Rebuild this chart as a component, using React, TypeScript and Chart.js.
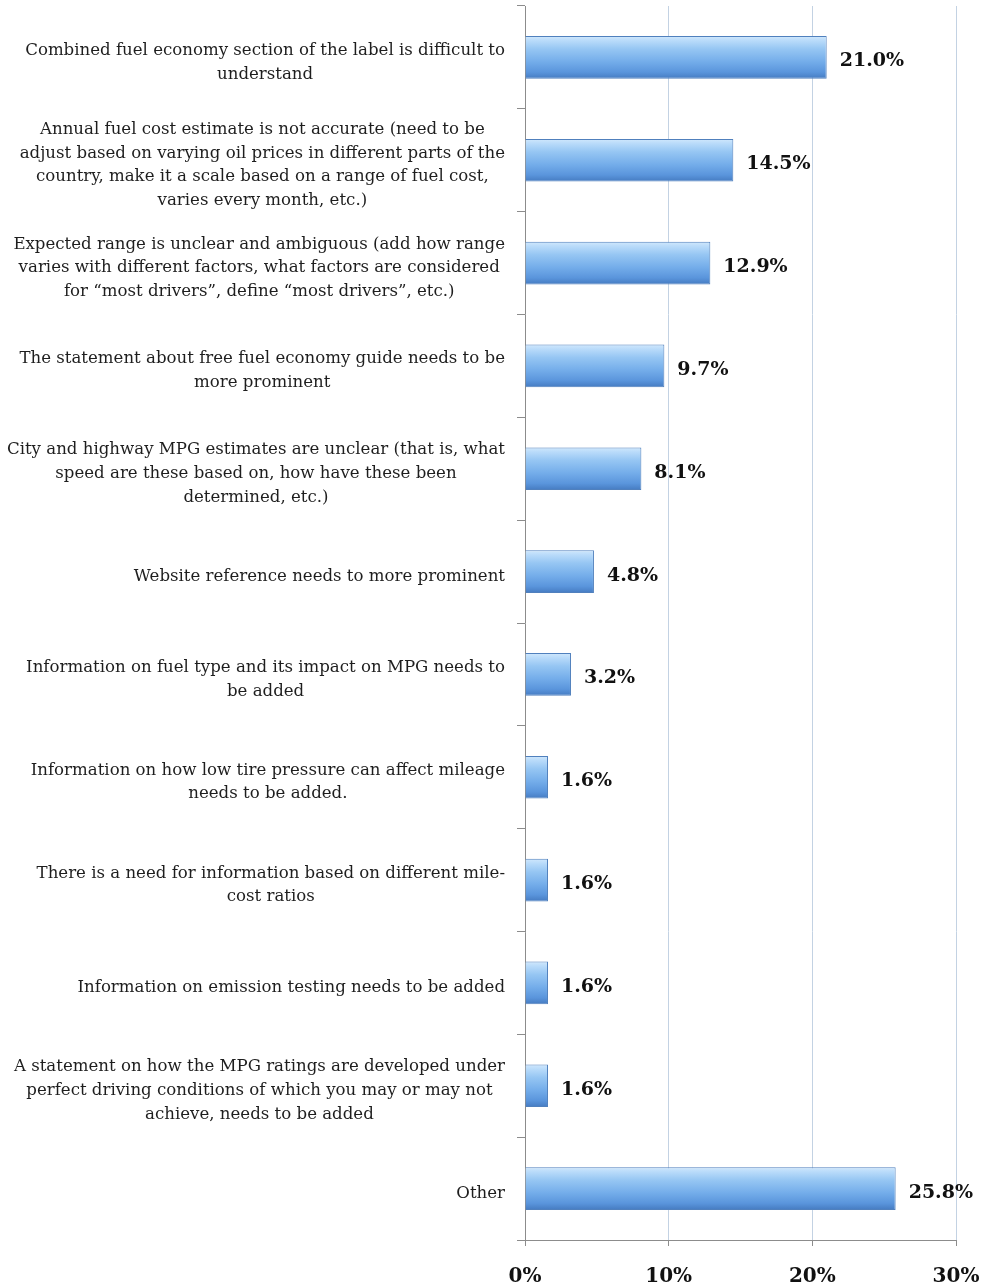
import React, { useEffect, useRef } from "react";
import { Chart, registerables } from "chart.js";

Chart.register(...registerables);

const categories: string[][] = [
  ["Combined fuel economy section of the label is difficult to", "understand"],
  [
    "Annual fuel cost estimate is not accurate (need to be",
    "adjust based on varying oil prices in different parts of the",
    "country, make it a scale based on a range of fuel cost,",
    "varies every month, etc.)",
  ],
  [
    "Expected range is unclear and ambiguous (add how range",
    "varies with different factors, what factors are considered",
    "for \u201cmost drivers\u201d, define \u201cmost drivers\u201d, etc.)",
  ],
  ["The statement about free fuel economy guide needs to be", "more prominent"],
  [
    "City and highway MPG estimates are unclear (that is, what",
    "speed are these based on, how have these been",
    "determined, etc.)",
  ],
  ["Website reference needs to more prominent"],
  ["Information on fuel type and its impact on MPG needs to", "be added"],
  ["Information on how low tire pressure can affect mileage", "needs to be added."],
  ["There is a need for information based on different mile-", "cost ratios"],
  ["Information on emission testing needs to be added"],
  [
    "A statement on how the MPG ratings are developed under",
    "perfect driving conditions of which you may or may not",
    "achieve, needs to be added",
  ],
  ["Other"],
];

const values: number[] = [21.0, 14.5, 12.9, 9.7, 8.1, 4.8, 3.2, 1.6, 1.6, 1.6, 1.6, 25.8];

const xMin = 0;
const xMax = 30;
const xStep = 10;

const LABEL_FONT = "16.6px 'DejaVu Serif'";
const VALUE_FONT = "bold 19px 'DejaVu Serif'";
const AXIS_GRAY = "#8c8c8c";

export default function App() {
  const ref = useRef<HTMLCanvasElement>(null);

  useEffect(() => {
    document.body.style.margin = "0";
    const canvas = ref.current;
    if (!canvas) return;

    const labelPlugin = {
      id: "customLabels",
      afterDraw(chart: any) {
        const ctx = chart.ctx;
        const yScale = chart.scales.y;
        ctx.save();
        ctx.font = LABEL_FONT;
        ctx.fillStyle = "#1e1e1e";
        ctx.textAlign = "center";
        ctx.textBaseline = "middle";
        const right = yScale.right - 20;
        const lh = 23.7;
        categories.forEach((lines, i) => {
          const cy = yScale.getPixelForValue(i) + 5;
          const w = Math.max(...lines.map((l) => ctx.measureText(l).width));
          const cx = right - w / 2;
          lines.forEach((l, j) => {
            ctx.fillText(l, cx, cy + (j - (lines.length - 1) / 2) * lh);
          });
        });
        const meta = chart.getDatasetMeta(0);
        ctx.font = VALUE_FONT;
        ctx.textAlign = "left";
        ctx.fillStyle = "#111";
        meta.data.forEach((bar: any, i: number) => {
          ctx.fillText(values[i].toFixed(1) + "%", bar.x + 13, bar.y + 4);
        });
        ctx.restore();
      },
    };

    const barBg = (c: any) => {
      const chart = c.chart;
      const yScale = chart.scales && chart.scales.y;
      if (!yScale || c.dataIndex == null) return "#74aee9";
      const cy = yScale.getPixelForValue(c.dataIndex);
      if (!Number.isFinite(cy)) return "#74aee9";
      const half = 21;
      const g = chart.ctx.createLinearGradient(0, cy - half, 0, cy + half);
      g.addColorStop(0, "#cfe7fc");
      g.addColorStop(0.1, "#b9dbfa");
      g.addColorStop(0.3, "#96c6f3");
      g.addColorStop(0.6, "#74adea");
      g.addColorStop(0.85, "#5a95dc");
      g.addColorStop(1, "#467cc2");
      return g;
    };

    const chart = new Chart(canvas, {
      type: "bar",
      data: {
        labels: categories,
        datasets: [
          {
            data: values,
            backgroundColor: barBg,
            borderColor: "#5080bd",
            borderWidth: 1,
            categoryPercentage: 1,
            barPercentage: 0.415,
          },
        ],
      },
      options: {
        indexAxis: "y",
        animation: false,
        responsive: false,
        devicePixelRatio: 1,
        layout: { padding: { top: 6, right: 26, left: 0, bottom: 0 } },
        plugins: {
          legend: { display: false },
          tooltip: { enabled: false },
        },
        scales: {
          x: {
            min: xMin,
            max: xMax,
            ticks: {
              stepSize: xStep,
              callback: (v: any) => v + "%",
              font: { family: "'DejaVu Serif'", size: 20, weight: "bold" },
              color: "#111",
              padding: 19,
            },
            grid: {
              color: (c: any) => (c.tick && c.tick.value === 0 ? "rgba(0,0,0,0)" : "#c3d2e3"),
              tickColor: AXIS_GRAY,
              tickLength: 6,
              lineWidth: 1,
            },
            border: { display: true, color: AXIS_GRAY },
            afterFit: (s: any) => {
              s.height = 47;
              s.paddingLeft = 0;
              s.paddingRight = 0;
            },
          },
          y: {
            ticks: { display: false },
            grid: {
              drawOnChartArea: false,
              drawTicks: true,
              tickLength: 8,
              tickColor: AXIS_GRAY,
              offset: true,
            },
            border: { display: true, color: AXIS_GRAY },
            afterFit: (s: any) => {
              s.width = 525;
              s.paddingTop = 0;
              s.paddingBottom = 0;
            },
          },
        },
      },
      plugins: [labelPlugin],
    } as any);

    return () => chart.destroy();
  }, []);

  return (
    <div style={{ position: "absolute", left: 0, top: 0, width: 982, height: 1287 }}>
      <canvas ref={ref} width={982} height={1287} style={{ width: 982, height: 1287 }} />
    </div>
  );
}
